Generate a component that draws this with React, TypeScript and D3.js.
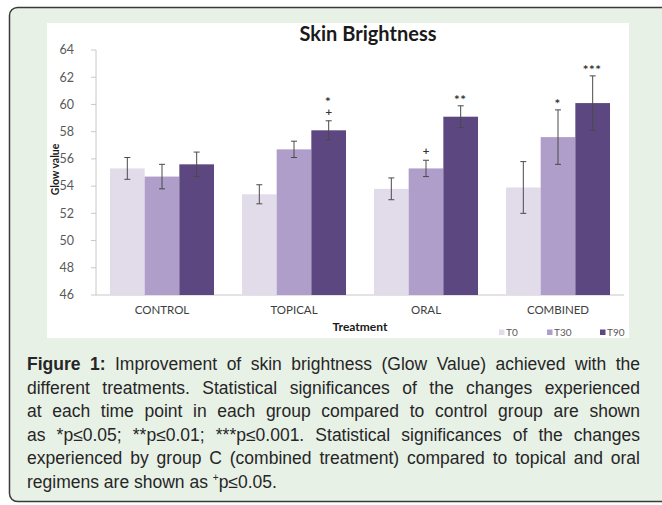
import React from "react";
import * as d3 from "d3";

const categories = ["CONTROL", "TOPICAL", "ORAL", "COMBINED"];
const seriesNames = ["T0", "T30", "T90"];
const t0Values = [55.3, 53.4, 53.8, 53.9];
const t30Values = [54.7, 56.7, 55.3, 57.6];
const t90Values = [55.6, 58.1, 59.1, 60.1];
const t0Errors = [0.8, 0.7, 0.8, 1.9];
const t30Errors = [0.9, 0.6, 0.6, 2.0];
const t90Errors = [0.9, 0.7, 0.8, 2.0];
const t0Stars = ["", "", "", ""];
const t30Stars = ["", "", "", "*"];
const t90Stars = ["", "*", "**", "***"];
const t0Plus = ["", "", "", ""];
const t30Plus = ["", "", "+", ""];
const t90Plus = ["", "+", "", ""];
const yTicks = [46, 48, 50, 52, 54, 56, 58, 60, 62, 64];
const seriesColors = ["#e2dcea", "#ae9ec9", "#5d4781"];

const captionLines = [
  "Improvement of skin brightness (Glow Value) achieved with the",
  "different treatments. Statistical significances of the changes experienced",
  "at each time point in each group compared to control group are shown",
  "as *p≤0.05; **p≤0.01; ***p≤0.001. Statistical significances of the changes",
  "experienced by group C (combined treatment) compared to topical and oral",
  "regimens are shown as ",
];

const W = 662;
const H = 505;
const axisX = 96;
const plotRight = 624;
const yTop = 50;
const yBottom = 295;

const CAP_FONT = "'Liberation Sans', Arial, sans-serif";
const CAP_SIZE = 17.5;
const CAP_LEFT = 27;
const CAP_RIGHT = 640;
const CAP_BASE = 370;
const CAP_LH = 23.5;

let ctx: CanvasRenderingContext2D | null = null;
function measure(text: string, bold = false): number {
  if (!ctx) {
    const c = document.createElement("canvas");
    ctx = c.getContext("2d");
  }
  if (!ctx) return text.length * CAP_SIZE * 0.5;
  ctx.font = `${bold ? "bold " : ""}${CAP_SIZE}px 'Liberation Sans'`;
  return ctx.measureText(text).width;
}

type Word = { text: string; bold: boolean };

function layoutLine(words: Word[], justify: boolean) {
  const widths = words.map((w) => measure(w.text, w.bold));
  const space = measure(" ");
  const total = widths.reduce((a, b) => a + b, 0);
  const gaps = words.length - 1;
  const gap = justify && gaps > 0 ? (CAP_RIGHT - CAP_LEFT - total) / gaps : space;
  const xs: number[] = [];
  let x = CAP_LEFT;
  widths.forEach((w) => {
    xs.push(x);
    x += w + gap;
  });
  return { xs, end: x - gap };
}

export default function App() {
  const series = [
    { name: seriesNames[0], values: t0Values, errors: t0Errors, stars: t0Stars, plus: t0Plus, color: seriesColors[0] },
    { name: seriesNames[1], values: t30Values, errors: t30Errors, stars: t30Stars, plus: t30Plus, color: seriesColors[1] },
    { name: seriesNames[2], values: t90Values, errors: t90Errors, stars: t90Stars, plus: t90Plus, color: seriesColors[2] },
  ];

  const x0 = d3
    .scaleBand<string>()
    .domain(categories)
    .range([axisX, plotRight])
    .paddingInner(0.212)
    .paddingOuter(0.106);
  const x1 = d3
    .scaleBand<string>()
    .domain(seriesNames)
    .range([0, x0.bandwidth()])
    .padding(0);
  const y = d3.scaleLinear().domain([46, 64]).range([yBottom, yTop]);

  const chartFont = "Lato, 'Open Sans', sans-serif";

  const captionEls: React.ReactNode[] = [];
  captionLines.forEach((line, i) => {
    const words: Word[] = line
      .trim()
      .split(/\s+/)
      .map((t) => ({ text: t, bold: false }));
    if (i === 0) {
      words.unshift({ text: "Figure", bold: true }, { text: "1:", bold: true });
    }
    const last = i === captionLines.length - 1;
    const { xs, end } = layoutLine(words, !last);
    const yy = CAP_BASE + i * CAP_LH;
    words.forEach((w, j) => {
      captionEls.push(
        <text
          key={`c${i}-${j}`}
          x={xs[j]}
          y={yy}
          fontFamily={CAP_FONT}
          fontSize={CAP_SIZE}
          fontWeight={w.bold ? "bold" : "normal"}
          fill="#262626"
        >
          {w.text}
        </text>
      );
    });
    if (last) {
      const sp = measure(" ");
      captionEls.push(
        <text key="sup" x={end + sp} y={yy} fontFamily={CAP_FONT} fontSize={CAP_SIZE} fill="#262626">
          <tspan fontSize={10} dy={-7}>+</tspan>
          <tspan dy={7}>p≤0.05.</tspan>
        </text>
      );
    }
  });

  return (
    <svg
      width={W}
      height={H}
      style={{ position: "absolute", left: 0, top: 0, display: "block" }}
    >
      <rect x={0} y={0} width={W} height={H} fill="#ffffff" />
      <rect x={9.5} y={7.5} width={720} height={494} rx={8} fill="#e8f1e6" stroke="#3a3a3a" strokeWidth={1.5} />
      <rect x={47} y={23} width={582} height={315} fill="#ffffff" />

      {/* title */}
      <text x={368} y={41} textAnchor="middle" fontFamily={chartFont} fontWeight="bold" fontSize={20} fill="#1a1a1a">
        Skin Brightness
      </text>

      {/* axes */}
      <line x1={axisX} x2={axisX} y1={yTop} y2={yBottom} stroke="#c8c8c8" strokeWidth={1} />
      <line x1={axisX} x2={plotRight} y1={yBottom} y2={yBottom} stroke="#c8c8c8" strokeWidth={1} />
      {yTicks.map((t) => (
        <g key={t}>
          <line x1={axisX - 5} x2={axisX} y1={y(t)} y2={y(t)} stroke="#c8c8c8" strokeWidth={1} />
          <text
            x={axisX - 22}
            y={y(t)}
            dy="0.35em"
            textAnchor="end"
            fontFamily={chartFont}
            fontSize={12.5}
            fill="#595959"
          >
            {t}
          </text>
        </g>
      ))}
      <text
        transform={`translate(59,${(yTop + yBottom) / 2 - 3}) rotate(-90)`}
        textAnchor="middle"
        fontFamily={chartFont}
        fontWeight="bold"
        fontSize={10.5}
        fill="#1a1a1a"
      >
        Glow value
      </text>

      {/* bars */}
      {categories.map((c, ci) => (
        <g key={c} transform={`translate(${x0(c)},0)`}>
          {series.map((s) => {
            const bx = x1(s.name) as number;
            const bw = x1.bandwidth();
            const v = s.values[ci];
            const e = s.errors[ci];
            const cx = bx + bw / 2;
            const eTop = y(v + e);
            const eBot = y(v - e);
            const star = s.stars[ci];
            const plus = s.plus[ci];
            const markY = eTop - 10;
            const marks: React.ReactNode[] = [];
            if (plus) {
              marks.push(
                <text key="p" x={cx} y={markY + 4} textAnchor="middle" fontFamily="'DejaVu Sans', sans-serif" fontWeight="bold" fontSize={9} fill="#333">
                  {plus}
                </text>
              );
            }
            if (star) {
              marks.push(
                <text
                  key="s"
                  x={cx}
                  y={plus ? markY - 6.8 : markY + 6}
                  textAnchor="middle"
                  fontFamily="'DejaVu Sans', sans-serif"
                  fontWeight="bold"
                  fontSize={9}
                  letterSpacing={1.5}
                  fill="#333"
                >
                  {star}
                </text>
              );
            }
            return (
              <g key={s.name}>
                <rect x={bx} y={y(v)} width={bw} height={yBottom - y(v)} fill={s.color} />
                <line x1={cx} x2={cx} y1={eTop} y2={eBot} stroke="#4a4a4a" strokeWidth={1} />
                <line x1={cx - 3} x2={cx + 3} y1={eTop} y2={eTop} stroke="#4a4a4a" strokeWidth={1} />
                <line x1={cx - 3} x2={cx + 3} y1={eBot} y2={eBot} stroke="#4a4a4a" strokeWidth={1} />
                {marks}
              </g>
            );
          })}
          <text
            x={x0.bandwidth() / 2}
            y={314}
            textAnchor="middle"
            fontFamily={chartFont}
            fontSize={11.5}
            fill="#404040"
          >
            {c}
          </text>
        </g>
      ))}

      {/* x axis title */}
      <text x={360} y={331} textAnchor="middle" fontFamily={chartFont} fontWeight="bold" fontSize={12} fill="#1a1a1a">
        Treatment
      </text>

      {/* legend */}
      {series.map((s, i) => {
        const lx = [499, 547, 600][i];
        return (
          <g key={s.name}>
            <rect x={lx} y={329.5} width={5.5} height={5.5} fill={s.color} />
            <text x={lx + 7} y={336} fontFamily={chartFont} fontSize={10} fill="#595959">
              {s.name}
            </text>
          </g>
        );
      })}

      {captionEls}
    </svg>
  );
}
